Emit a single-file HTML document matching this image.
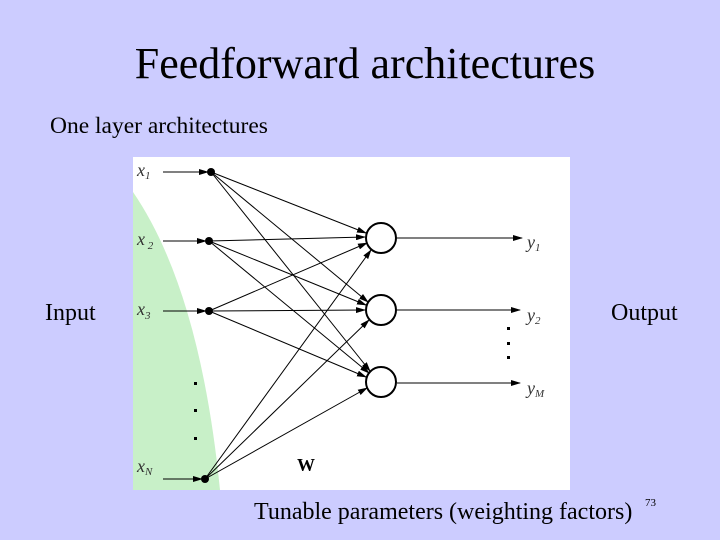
<!DOCTYPE html>
<html><head><style>
body{margin:0;width:720px;height:540px;background:#ccccff;position:relative;overflow:hidden;font-family:"Liberation Serif",serif;}
.t{position:absolute;white-space:nowrap;color:#000;}
</style></head><body>
<div class="t" style="left:0;width:730px;text-align:center;top:38px;font-size:44px;">Feedforward architectures</div>
<div class="t" style="left:50px;top:113px;font-size:23.5px;">One layer architectures</div>
<div class="t" style="left:45px;top:300px;font-size:24px;">Input</div>
<div class="t" style="left:611px;top:300px;font-size:24px;">Output</div>
<div class="t" style="left:254px;top:499px;font-size:24px;">Tunable parameters (weighting factors)</div>
<div class="t" style="left:645px;top:497px;font-size:11px;">73</div>
<svg style="position:absolute;left:0;top:0" width="720" height="540">
<defs><marker id="a" markerWidth="10" markerHeight="6" refX="9" refY="3" orient="auto" markerUnits="userSpaceOnUse"><path d="M0,0L10,3L0,6z" fill="#000"/></marker></defs>
<rect x="133" y="157" width="437" height="333" fill="#fff"/>
<path d="M133,192 Q200,290 220,490 L133,490Z" fill="#c8f0c8"/>
<g stroke="#000" stroke-width="1" fill="none" marker-end="url(#a)">
<line x1="163" y1="172" x2="208" y2="172"/>
<line x1="163" y1="241" x2="206" y2="241"/>
<line x1="163" y1="311" x2="206" y2="311"/>
<line x1="163" y1="479" x2="202" y2="479"/>
<line x1="211" y1="172" x2="366" y2="233"/>
<line x1="211" y1="172" x2="368" y2="302"/>
<line x1="211" y1="172" x2="370" y2="371"/>
<line x1="209" y1="241" x2="365" y2="237"/>
<line x1="209" y1="241" x2="366" y2="305"/>
<line x1="209" y1="241" x2="369" y2="373"/>
<line x1="209" y1="311" x2="367" y2="243"/>
<line x1="209" y1="311" x2="365" y2="310"/>
<line x1="209" y1="311" x2="366" y2="377"/>
<line x1="205" y1="479" x2="371" y2="250"/>
<line x1="205" y1="479" x2="369" y2="320"/>
<line x1="205" y1="479" x2="367" y2="388"/>
<line x1="397" y1="238" x2="522" y2="238"/>
<line x1="397" y1="310" x2="520" y2="310"/>
<line x1="397" y1="383" x2="520" y2="383"/>
</g>
<g fill="#000"><circle cx="211" cy="172" r="4"/><circle cx="209" cy="241" r="4"/><circle cx="209" cy="311" r="4"/><circle cx="205" cy="479" r="4"/>
<rect x="194" y="382" width="3" height="3"/><rect x="194" y="409" width="3" height="3"/><rect x="194" y="437" width="3" height="3"/>
<rect x="507" y="327" width="3" height="3"/><rect x="507" y="342" width="3" height="3"/><rect x="507" y="356" width="3" height="3"/></g>
<g fill="#fff" stroke="#000" stroke-width="2"><circle cx="381" cy="238" r="15"/><circle cx="381" cy="310" r="15"/><circle cx="381" cy="382" r="15"/></g>
<g font-family="Liberation Serif,serif" font-style="italic" font-size="18" fill="#333">
<text x="137" y="176">x<tspan font-size="11" dy="3">1</tspan></text>
<text x="137" y="245">x<tspan font-size="11" dy="4"> 2</tspan></text>
<text x="137" y="315">x<tspan font-size="11" dy="4">3</tspan></text>
<text x="137" y="472">x<tspan font-size="11" dy="3">N</tspan></text>
<text x="527" y="248">y<tspan font-size="11" dy="3">1</tspan></text>
<text x="527" y="321">y<tspan font-size="11" dy="3">2</tspan></text>
<text x="527" y="394">y<tspan font-size="11" dy="3">M</tspan></text>
</g>
<text x="297" y="471" font-family="Liberation Serif,serif" font-weight="bold" font-size="18">W</text>
</svg>
</body></html>
